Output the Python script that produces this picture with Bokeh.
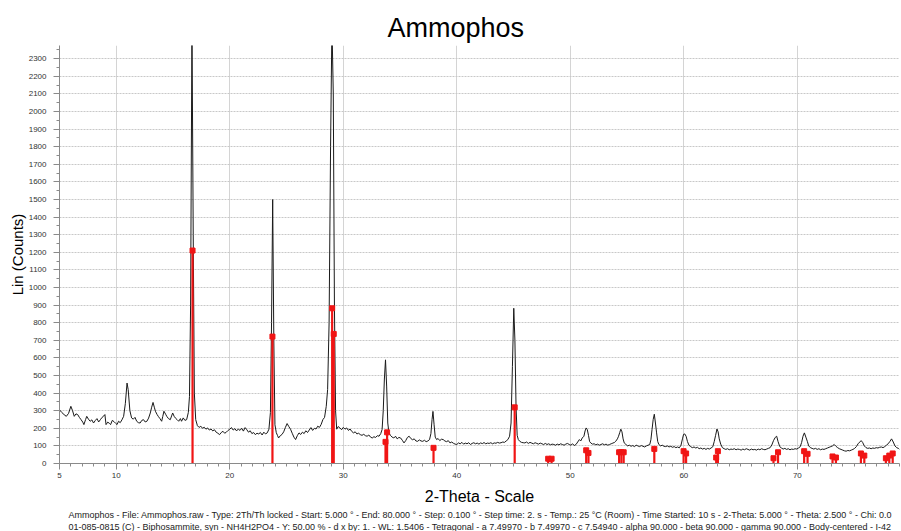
from bokeh.plotting import figure
from bokeh.models import FixedTicker, SingleIntervalTicker, Range1d, Title
from bokeh.embed import file_html
from bokeh.resources import INLINE

title_text = "Ammophos"
x_label = "2-Theta - Scale"
y_label = "Lin (Counts)"
x_major_ticks = [5, 10, 20, 30, 40, 50, 60, 70]
x_grid_ticks = [10, 20, 30, 40, 50, 60, 70]
legend_line_1 = ("Ammophos - File: Ammophos.raw - Type: 2Th/Th locked - Start: 5.000 \u00b0 - End: 80.000 \u00b0 - "
                 "Step: 0.100 \u00b0 - Step time: 2. s - Temp.: 25 \u00b0C (Room) - Time Started: 10 s - "
                 "2-Theta: 5.000 \u00b0 - Theta: 2.500 \u00b0 - Chi: 0.0")
legend_line_2 = ("01-085-0815 (C) - Biphosammite, syn - NH4H2PO4 - Y: 50.00 % - d x by: 1. - WL: 1.5406 - "
                 "Tetragonal - a 7.49970 - b 7.49970 - c 7.54940 - alpha 90.000 - beta 90.000 - gamma 90.000 - "
                 "Body-centered - I-42")

# measured pattern (2-theta, counts)
two_theta = [
    5.0, 5.2, 5.4, 5.6, 5.8, 6.0, 6.15, 6.3, 6.45, 6.6,
    6.75, 6.9, 7.05, 7.15, 7.3, 7.4, 7.55, 7.7, 7.85, 8.0,
    8.15, 8.3, 8.45, 8.6, 8.75, 8.9, 9.0, 9.1, 9.25, 9.4,
    9.5, 9.65, 9.8, 9.95, 10.07, 10.2, 10.35, 10.5, 10.65, 10.8,
    10.95, 11.05, 11.2, 11.35, 11.5, 11.65, 11.8, 11.95, 12.1, 12.25,
    12.4, 12.55, 12.7, 12.85, 13.0, 13.12, 13.24, 13.35, 13.45, 13.6,
    13.7, 13.85, 14.0, 14.1, 14.2, 14.35, 14.45, 14.6, 14.76, 14.9,
    14.97, 15.1, 15.2, 15.35, 15.5, 15.65, 15.75, 15.9, 16.05, 16.2,
    16.35, 16.45, 16.55, 16.67, 16.78, 16.88, 17.0, 17.15, 17.3, 17.45,
    17.6, 17.75, 17.9, 18.05, 18.2, 18.35, 18.5, 18.65, 18.8, 18.95,
    19.1, 19.25, 19.4, 19.55, 19.7, 19.85, 20.0, 20.15, 20.3, 20.45,
    20.6, 20.75, 20.9, 21.05, 21.2, 21.35, 21.5, 21.65, 21.8, 21.95,
    22.1, 22.25, 22.4, 22.55, 22.7, 22.85, 23.0, 23.15, 23.3, 23.45,
    23.58, 23.68, 23.78, 23.88, 23.98, 24.1, 24.2, 24.3, 24.45, 24.6,
    24.75, 24.9, 25.05, 25.2, 25.35, 25.5, 25.65, 25.8, 25.95, 26.1,
    26.25, 26.4, 26.55, 26.7, 26.85, 27.0, 27.15, 27.3, 27.45, 27.6,
    27.75, 27.9, 28.05, 28.2, 28.35, 28.5, 28.62, 28.75, 28.88, 29.0,
    29.12, 29.22, 29.32, 29.42, 29.55, 29.7, 29.85, 30.0, 30.15, 30.3,
    30.45, 30.6, 30.75, 30.9, 31.05, 31.2, 31.35, 31.5, 31.65, 31.8,
    31.95, 32.1, 32.25, 32.4, 32.55, 32.7, 32.85, 33.0, 33.15, 33.3,
    33.42, 33.52, 33.62, 33.72, 33.82, 33.92, 34.02, 34.15, 34.3, 34.45,
    34.6, 34.75, 34.9, 35.05, 35.2, 35.35, 35.5, 35.65, 35.8, 35.95,
    36.1, 36.25, 36.4, 36.55, 36.7, 36.85, 37.0, 37.15, 37.3, 37.45,
    37.6, 37.72, 37.82, 37.9, 38.0, 38.1, 38.22, 38.35, 38.5, 38.65,
    38.8, 38.95, 39.1, 39.25, 39.4, 39.55, 39.7, 39.85, 40.0, 40.15,
    40.3, 40.45, 40.6, 40.75, 40.9, 41.05, 41.2, 41.35, 41.5, 41.65,
    41.8, 41.95, 42.1, 42.25, 42.4, 42.55, 42.7, 42.85, 43.0, 43.15,
    43.3, 43.45, 43.6, 43.75, 43.9, 44.05, 44.2, 44.35, 44.5, 44.65,
    44.78, 44.9, 45.02, 45.12, 45.22, 45.32, 45.42, 45.55, 45.7, 45.85,
    46.0, 46.15, 46.3, 46.45, 46.6, 46.75, 46.9, 47.05, 47.2, 47.35,
    47.5, 47.65, 47.8, 47.95, 48.1, 48.25, 48.4, 48.55, 48.7, 48.85,
    49.0, 49.15, 49.3, 49.45, 49.6, 49.75, 49.9, 50.05, 50.2, 50.35,
    50.5, 50.65, 50.8, 50.92, 51.05, 51.2, 51.3, 51.4, 51.5, 51.6,
    51.7, 51.8, 51.95, 52.1, 52.25, 52.4, 52.55, 52.7, 52.85, 53.0,
    53.15, 53.3, 53.45, 53.6, 53.75, 53.9, 54.0, 54.15, 54.25, 54.35,
    54.45, 54.55, 54.65, 54.75, 54.9, 55.05, 55.2, 55.35, 55.5, 55.65,
    55.8, 55.95, 56.1, 56.25, 56.4, 56.55, 56.7, 56.85, 57.0, 57.1,
    57.2, 57.3, 57.4, 57.5, 57.6, 57.7, 57.8, 57.95, 58.1, 58.25,
    58.4, 58.55, 58.7, 58.85, 59.0, 59.15, 59.3, 59.45, 59.6, 59.75,
    59.88, 59.98, 60.08, 60.2, 60.32, 60.45, 60.6, 60.75, 60.9, 61.05,
    61.2, 61.35, 61.5, 61.65, 61.8, 61.95, 62.1, 62.25, 62.4, 62.55,
    62.68, 62.8, 62.92, 63.02, 63.12, 63.25, 63.4, 63.55, 63.7, 63.85,
    64.0, 64.15, 64.3, 64.45, 64.6, 64.75, 64.9, 65.05, 65.2, 65.35,
    65.5, 65.65, 65.8, 65.95, 66.1, 66.25, 66.4, 66.55, 66.7, 66.85,
    67.0, 67.15, 67.3, 67.45, 67.6, 67.75, 67.9, 68.05, 68.18, 68.3,
    68.45, 68.6, 68.75, 68.9, 69.05, 69.2, 69.35, 69.5, 69.65, 69.8,
    69.95, 70.1, 70.25, 70.38, 70.5, 70.62, 70.75, 70.88, 71.0, 71.15,
    71.3, 71.45, 71.6, 71.75, 71.9, 72.05, 72.2, 72.35, 72.5, 72.65,
    72.8, 72.95, 73.1, 73.25, 73.4, 73.55, 73.7, 73.85, 74.0, 74.15,
    74.3, 74.45, 74.6, 74.75, 74.9, 75.05, 75.2, 75.35, 75.5, 75.62,
    75.75, 75.9, 76.05, 76.2, 76.35, 76.5, 76.65, 76.8, 76.95, 77.1,
    77.25, 77.4, 77.55, 77.7, 77.85, 78.0, 78.15, 78.3, 78.45, 78.6,
    78.75, 78.9, 79.0,
]
counts = [
    305, 290, 278, 268, 285, 325, 300, 268, 282, 278,
    262, 249, 235, 221, 250, 268, 252, 240, 248, 230,
    244, 255, 236, 249, 262, 270, 278, 221, 235, 228,
    221, 245, 238, 228, 221, 240, 232, 248, 268, 340,
    457, 420, 300, 259, 252, 262, 240, 232, 230, 245,
    249, 236, 240, 258, 287, 320, 347, 320, 297, 278,
    268, 255, 240, 268, 297, 280, 268, 255, 249, 275,
    287, 268, 259, 250, 240, 255, 240, 259, 245, 249,
    290, 380, 900, 2500, 1300, 400, 249, 215, 205, 212,
    200, 206, 195, 202, 190, 196, 185, 192, 178, 172,
    164, 176, 183, 172, 178, 188, 195, 204, 190, 198,
    185, 196, 188, 200, 184, 204, 192, 178, 186, 170,
    176, 164, 172, 168, 176, 162, 178, 168, 174, 195,
    289, 800, 1500, 700, 220, 175, 160, 145, 158, 165,
    180, 205, 227, 210, 195, 172, 150, 136, 158, 174,
    165, 178, 170, 186, 176, 190, 204, 188, 200, 196,
    212, 205, 222, 249, 262, 325, 420, 800, 1800, 2500,
    2100, 900, 300, 195, 210, 202, 192, 205, 195, 202,
    188, 196, 182, 174, 180, 168, 172, 164, 160, 166,
    158, 155, 162, 150, 145, 152, 148, 158, 155, 170,
    193, 300, 480, 589, 440, 230, 175, 160, 150, 145,
    155, 140, 148, 145, 132, 117, 130, 148, 155, 142,
    135, 140, 128, 126, 134, 128, 126, 132, 124, 128,
    136, 170, 250, 296, 220, 150, 136, 142, 130, 138,
    136, 128, 124, 130, 117, 122, 115, 110, 108, 117,
    112, 120, 110, 116, 112, 118, 108, 114, 118, 112,
    116, 110, 117, 113, 119, 112, 116, 114, 118, 112,
    117, 115, 120, 116, 118, 122, 120, 128, 136, 155,
    230, 550, 882, 700, 320, 160, 136, 126, 120, 118,
    117, 122, 114, 120, 116, 112, 118, 114, 110, 116,
    112, 108, 114, 108, 112, 106, 110, 108, 104, 110,
    106, 112, 108, 104, 110, 114, 108, 104, 112, 102,
    108, 122, 136, 128, 145, 155, 185, 202, 192, 160,
    125, 117, 110, 112, 106, 110, 104, 108, 112, 106,
    110, 104, 108, 112, 116, 120, 126, 140, 155, 175,
    195, 180, 140, 117, 108, 100, 104, 98, 102, 96,
    104, 100, 96, 102, 98, 94, 100, 104, 108, 135,
    193, 250, 280, 230, 174, 125, 108, 100, 104, 98,
    96, 100, 94, 98, 92, 96, 90, 94, 89, 104,
    140, 166, 168, 155, 125, 104, 96, 90, 94, 88,
    92, 84, 88, 82, 86, 80, 86, 82, 88, 95,
    125, 160, 196, 180, 140, 110, 90, 84, 80, 84,
    78, 82, 80, 84, 78, 82, 80, 76, 82, 78,
    84, 80, 76, 82, 78, 80, 76, 82, 78, 84,
    80, 78, 82, 86, 90, 105, 130, 148, 155, 125,
    96, 88, 82, 86, 80, 84, 78, 82, 80, 84,
    82, 88, 95, 120, 155, 174, 150, 126, 100, 90,
    86, 82, 86, 80, 84, 78, 82, 80, 84, 88,
    92, 96, 100, 108, 98, 90, 84, 80, 76, 72,
    70, 74, 72, 76, 80, 86, 96, 112, 122, 130,
    120, 100, 90, 86, 88, 84, 88, 86, 90, 88,
    92, 94, 90, 96, 104, 112, 125, 140, 122, 100,
    90, 86, 80,
]

# reference pattern 01-085-0815 stick positions and intensities
stick_pos = [16.72, 23.76, 29.02, 29.16, 33.72, 33.86, 37.95, 45.1,
             48.05, 48.35, 51.4, 51.6, 54.3, 54.5, 54.7, 57.4, 59.98, 60.2,
             62.85, 63.0, 67.9, 68.3, 70.6, 70.9, 73.1, 73.4, 75.6, 75.9,
             77.8, 78.1, 78.4]
stick_int = [1210, 721, 882, 736, 123, 177, 89, 319,
             27, 27, 75, 60, 64, 64, 64, 83, 70, 57,
             34, 70, 30, 64, 70, 55, 40, 34, 57, 45,
             30, 45, 57]
stick_base = [0 for _ in stick_pos]

RED = "#f01515"
FONT = "Liberation Sans"

p = figure(width=901, height=531, output_backend="svg", toolbar_location=None,
           x_range=Range1d(5, 79), y_range=Range1d(0, 2375),
           min_border_left=59, min_border_right=2, min_border_top=45, min_border_bottom=67,
           title=title_text)
p.outline_line_color = None
p.background_fill_color = "white"
p.border_fill_color = "white"

p.title.align = "left"
p.title.offset = 328
p.title.text_font = FONT
p.title.text_font_size = "27px"
p.title.text_font_style = "normal"
p.title.text_color = "#000000"
p.title.standoff = 6

p.line(two_theta, counts, line_color="#1a1a1a", line_width=1)
p.segment(x0=stick_pos, y0=stick_base, x1=stick_pos, y1=stick_int, line_color=RED, line_width=2.2)
p.scatter(stick_pos, stick_int, marker="square", size=5, fill_color=RED, line_color=RED)

xa = p.xaxis[0]
xa.ticker = FixedTicker(ticks=x_major_ticks, minor_ticks=list(range(5, 80)))
ya = p.yaxis[0]
ya.ticker = SingleIntervalTicker(interval=100, num_minor_ticks=2)
for ax in (xa, ya):
    ax.major_label_text_font = FONT
    ax.major_label_text_font_size = "8px"
    ax.major_label_text_color = "#333333"
    ax.axis_line_color = "#8a8a8a"
    ax.major_tick_line_color = "#8a8a8a"
    ax.minor_tick_line_color = "#8a8a8a"
    ax.major_tick_in = 0
    ax.minor_tick_in = 0
    ax.major_tick_out = 6
    ax.minor_tick_out = 3
    ax.axis_label_text_font = FONT
    ax.axis_label_text_font_style = "normal"
    ax.axis_label_text_color = "#000000"
xa.axis_label = x_label
xa.axis_label_text_font_size = "16px"
xa.major_label_standoff = 3
xa.axis_label_standoff = 7
ya.axis_label = y_label
ya.axis_label_text_font_size = "15px"
ya.major_label_standoff = 7
ya.axis_label_standoff = 0

p.xgrid.ticker = FixedTicker(ticks=x_grid_ticks)
p.xgrid.grid_line_color = "#d4d4d4"
p.ygrid.grid_line_color = "#c8c8c8"
p.ygrid.grid_line_dash = "2 1"

for line_text in (legend_line_1, legend_line_2):
    p.add_layout(Title(text=line_text, align="left", offset=9, standoff=0,
                       text_font=FONT, text_font_size="9px", text_font_style="normal",
                       text_line_height=0.9, text_color="#222222"), "below")

open("out.html", "w").write(file_html(p, INLINE))
